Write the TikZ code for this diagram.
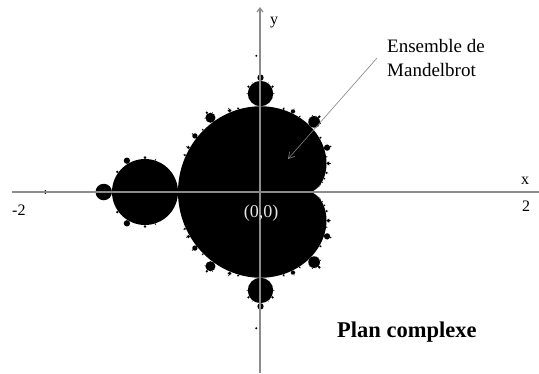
\documentclass[tikz,border=0pt]{standalone}
\usepackage{fontspec}
\setmainfont{Liberation Serif}
\usetikzlibrary{arrows.meta}

\begin{document}
\begin{tikzpicture}[
    x=1pt, y=-1pt,
    set/.style={fill=black},
    axis line/.style={black!45},
    axis label/.style={font=\fontsize{16}{18}\selectfont, inner sep=0pt}
]

\useasboundingbox (0,0) rectangle (539,373);

% --- 1. Mandelbrot set: cardioid + bulbs ---
\begin{scope}[shift={(277,192)}, x=132pt, y=132pt]
    \fill[set] plot[domain=0:360, samples=241, variable=\t]
        ({cos(\t)/2-cos(2*\t)/4}, {sin(\t)/2-sin(2*\t)/4}) -- cycle;

    % bulbs p/q on the cardioid, each with its own small bulbs
    \foreach \q [evaluate=\q as \qm using int(\q-1)] in {2,...,12}{
        \foreach \p in {1,...,\qm}{
            \pgfmathsetmacro{\ang}{360*\p/\q}
            \pgfmathsetmacro{\rad}{sin(180*\p/\q)/\q^2}
            \pgfmathsetmacro{\dir}{1.5*\ang-90}
            \coordinate (bc) at ({cos(\ang)/2-cos(2*\ang)/4+\rad*cos(\dir)},
                                 {sin(\ang)/2-sin(2*\ang)/4+\rad*sin(\dir)});
            \fill[set] (bc) circle[radius=\rad];
            \foreach \s [evaluate=\s as \sm using int(\s-1)] in {2,...,5}{
                \foreach \k in {1,...,\sm}{
                    \pgfmathsetmacro{\sang}{\dir+180+360*\k/\s}
                    \pgfmathsetmacro{\srad}{\rad*sin(180*\k/\s)/\s^2}
                    \fill[set] (bc) ++(\sang:\rad+\srad) circle[radius=\srad];
                }
            }
        }
    }

    % small copies on the antennas
    \fill[set] (-1.755,0) circle[radius=0.015];
    \fill[set] (-0.157,1.032) circle[radius=0.008];
    \fill[set] (-0.157,-1.032) circle[radius=0.008];
\end{scope}

% --- 2. Axes ---
\coordinate (xl) at (12,192);
\coordinate (xr) at (539,192);
\coordinate (yb) at (260,373);
\coordinate (yt) at (260,7);

\draw[axis line, line width=2pt] (xl) -- (xr);
\draw[axis line, line width=1.2pt, -{Straight Barb[length=4pt, width=6pt]}] (yb) -- (yt);

\node[axis label, anchor=base west] (xlab) at (521,184) {x};
\node[axis label, anchor=base west] (ylab) at (270,24) {y};
\node[axis label, anchor=base west] (mtwo) at (12,215) {-2};
\node[axis label, anchor=base west] (ptwo) at (522,211) {2};
\node[axis label, font=\fontsize{18}{20}\selectfont, text=black!10, anchor=base] (orig) at (261,217) {(0,0)};

% --- 3. Labels ---
\node[anchor=west, align=left, inner xsep=10pt, inner ysep=0pt,
      font=\fontsize{19}{24}\selectfont] (ens) at (377,58) {Ensemble de\\Mandelbrot};
\coordinate (tip) at (288,159);
\draw[black!50, semithick, -{Straight Barb[length=6pt, width=7pt]}] (ens.west) -- (tip);

\node[anchor=base west, inner sep=0pt, font=\fontsize{22.5}{26}\selectfont\bfseries]
    (plan) at (337,337) {Plan complexe};

\end{tikzpicture}
\end{document}
